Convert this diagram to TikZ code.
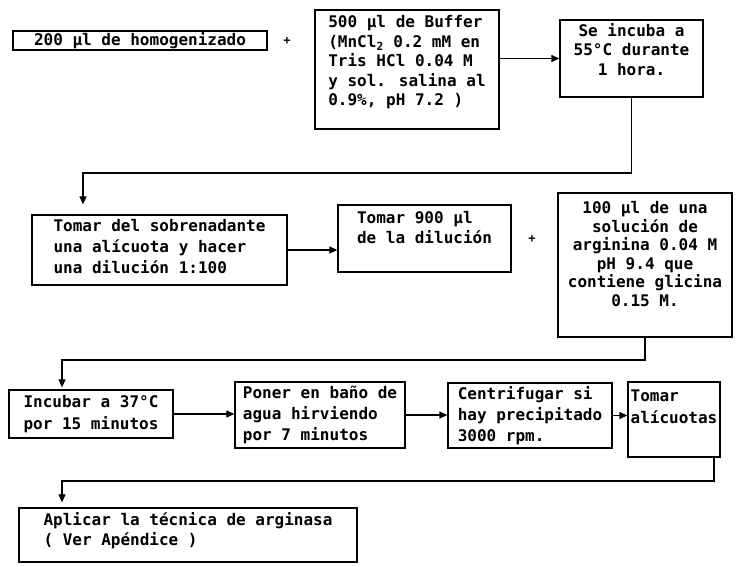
\documentclass[tikz,border=0pt]{standalone}
\usepackage{fontspec}
\usetikzlibrary{arrows.meta, positioning, calc}
\newfontfamily\dotfont{DejaVu Sans Mono}
\tikzset{
  stepbox/.style={rectangle, draw=black, line width=1.3pt, inner sep=0pt},
  boxtext/.style={font=\dotfont\bfseries\fontsize{16}{#1}\selectfont, align=left, inner sep=0pt},
  boxtext/.default=19.5,
  plussign/.style={font=\dotfont\bfseries\fontsize{12}{12}\selectfont, inner sep=0pt},
  arrow/.style={-{Triangle[length=8pt, width=7pt]}, line width=1.2pt}
}

\begin{document}
\begin{tikzpicture}[x=1pt, y=-1pt]
  \useasboundingbox (0,0) rectangle (736,566);

  % first row
  \node[stepbox, minimum width=254, minimum height=19] (homog) at (140,40.5) {};
  \node[boxtext] (homogT) at (homog) {200 µl de homogenizado};
  \node[plussign] (plus1) at (287,41) {+};
  \node[stepbox, minimum width=184, minimum height=119] (buffer) at (407,69.5) {};
  \node[boxtext] (bufferT) at ([yshift=7pt]buffer.center) {500 µl de Buffer\\(MnCl\textsubscript{2} 0.2 mM en\\Tris HCl 0.04 M\\y sol. salina al\\0.9\%, pH 7.2 )};
  \node[stepbox, minimum width=143, minimum height=77] (incuba) at (631.5,58.5) {};
  \node[boxtext, align=center] (incubaT) at ([yshift=9pt]incuba.center) {Se incuba a\\55°C durante\\1 hora.};

  % second row
  \node[stepbox, minimum width=255, minimum height=70] (sobren) at (159.5,250) {};
  \node[boxtext=21] (sobrenT) at ([yshift=3pt]sobren.center) {Tomar del sobrenadante\\una alícuota y hacer\\una dilución 1:100};
  \node[stepbox, minimum width=173, minimum height=67] (dilu) at (424.5,238.5) {};
  \node[boxtext] (diluT) at ([yshift=11pt]dilu.center) {Tomar 900 µl\\de la dilución};
  \node[plussign] (plus2) at (532,239) {+};
  \node[stepbox, minimum width=174, minimum height=144] (argin) at (645,265) {};
  \node[boxtext=18.5, align=center] (arginT) at ([yshift=11pt]argin.center) {100 µl de una\\solución de\\arginina 0.04 M\\pH 9.4 que\\contiene glicina\\0.15 M.};

  % third row
  \node[stepbox, minimum width=164, minimum height=48] (incub37) at (91,414) {};
  \node[boxtext=22] (incub37T) at (incub37) {Incubar a 37°C\\por 15 minutos};
  \node[stepbox, minimum width=170, minimum height=66] (poner) at (320,415) {};
  \node[boxtext=21] (ponerT) at (poner) {Poner en baño de\\agua hirviendo\\por 7 minutos};
  \node[stepbox, minimum width=164, minimum height=65] (centrif) at (530,415.5) {};
  \node[boxtext=21] (centrifT) at (centrif) {Centrifugar si\\hay precipitado\\3000 rpm.};
  \node[stepbox, minimum width=92, minimum height=75] (tomar) at (674,419.5) {};
  \node[boxtext=22] (tomarT) at ([yshift=13pt]tomar.center) {Tomar\\alícuotas};

  % last step
  \node[stepbox, minimum width=338, minimum height=54] (aplic) at (188,535) {};
  \node[boxtext=20] (aplicT) at ([yshift=4pt]aplic.center) {Aplicar la técnica de arginasa\\( Ver Apéndice )};

  % connectors
  \coordinate (k1) at (83,173);
  \coordinate (k2) at (62,360);
  \coordinate (k3) at (714,481);
  \coordinate (k4) at (62,481);
  \draw[arrow] (buffer.east |- incuba.west) -- (incuba.west);
  \draw[arrow, shorten >=10pt] (incuba.south) |- (k1) -- (k1 |- sobren.north);
  \draw[arrow] (sobren.east) -- (sobren.east -| dilu.west);
  \draw[arrow, shorten >=2pt] (argin.south) |- (k2) -- (k2 |- incub37.north);
  \draw[arrow] (incub37.east) -- (incub37.east -| poner.west);
  \draw[arrow] (poner.east) -- (poner.east -| centrif.west);
  \draw[arrow] (centrif.east) -- (centrif.east -| tomar.west);
  \draw[arrow, shorten >=5pt] (k3 |- tomar.south) -- (k3) -- (k4) -- (k4 |- aplic.north);
\end{tikzpicture}
\end{document}
